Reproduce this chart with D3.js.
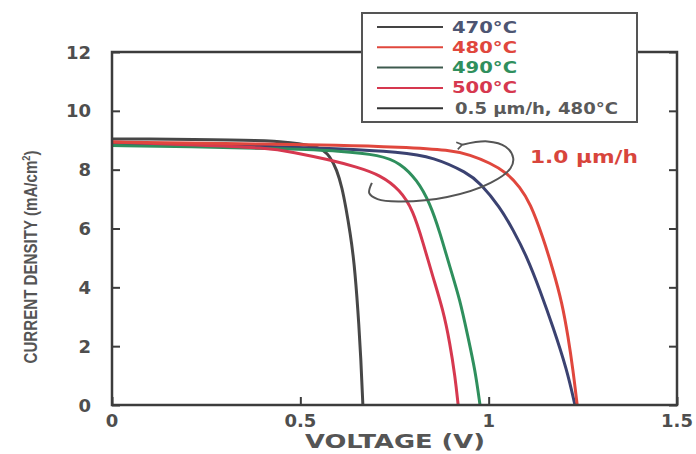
<!DOCTYPE html>
<html><head><meta charset="utf-8">
<script src="https://cdn.jsdelivr.net/npm/d3@7"></script>
<style>body{margin:0;background:#fff}svg{display:block}</style>
</head><body>
<script>
// ---- data ----
const xTicks = [0, 0.5, 1, 1.5];
const xTickLabels = ["0", "0.5", "1", "1.5"];
const yTicks = [0, 2, 4, 6, 8, 10, 12];
const yTickLabels = ["0", "2", "4", "6", "8", "10", "12"];

const seriesNames = ["470°C", "480°C", "490°C", "500°C", "0.5 µm/h, 480°C"];

const voltage470 = [0, 0.1, 0.2, 0.4, 0.472, 0.552, 0.579, 0.597, 0.611, 0.621, 0.632, 0.643, 0.653, 0.661, 0.666];
const current470 = [9.04, 9.04, 9.03, 9.0, 8.93, 8.79, 8.46, 7.99, 7.38, 6.7, 5.88, 4.86, 3.23, 1.53, 0];

const voltage480 = [0, 0.2, 0.4, 0.6, 0.765, 0.9, 0.95, 1.004, 1.049, 1.083, 1.11, 1.144, 1.171, 1.195, 1.211, 1.224, 1.235];
const current480 = [8.94, 8.91, 8.87, 8.84, 8.77, 8.67, 8.5, 8.23, 7.89, 7.41, 6.87, 5.71, 4.59, 3.47, 2.31, 1.19, 0];

const voltage490 = [0, 0.2, 0.472, 0.605, 0.712, 0.765, 0.81, 0.844, 0.871, 0.897, 0.924, 0.945, 0.964, 0.977];
const current490 = [8.82, 8.78, 8.71, 8.64, 8.5, 8.23, 7.65, 6.87, 5.85, 4.69, 3.57, 2.31, 1.19, 0];

const voltage500 = [0, 0.234, 0.41, 0.48, 0.579, 0.65, 0.712, 0.765, 0.799, 0.826, 0.852, 0.879, 0.897, 0.911, 0.919];
const current500 = [8.94, 8.84, 8.74, 8.6, 8.33, 8.09, 7.82, 7.31, 6.63, 5.51, 4.35, 3.23, 2.11, 0.95, 0];

const voltageLow = [0, 0.2, 0.4, 0.6, 0.765, 0.854, 0.944, 0.977, 1.03, 1.065, 1.102, 1.136, 1.171, 1.208, 1.229];
const currentLow = [8.9, 8.86, 8.8, 8.72, 8.6, 8.43, 7.89, 7.55, 6.73, 5.95, 5.03, 3.91, 2.65, 1.19, 0];

// curved arrow annotation (data coordinates)
const arrowV = [0.69, 0.683, 0.705, 0.76, 0.89, 1.005, 1.058, 1.065, 1.045, 0.997, 0.93];
const arrowJ = [7.55, 7.2, 7.0, 6.92, 7.07, 7.55, 8.05, 8.4, 8.78, 8.96, 8.85];
const annotationText = "1.0 µm/h";

// ---- drawing ----
const W = 696, H = 454;
const svg = d3.select("body").append("svg").attr("width", W).attr("height", H);
const x = d3.scaleLinear().domain([0, 1.5]).range([112, 677]);
const y = d3.scaleLinear().domain([0, 12]).range([405, 52]);

const axisColor = "#3c3c3c";
const textColor = "#4e4e4e";
const font = "'DejaVu Sans', 'Liberation Sans', Arial, sans-serif";

// curves
const colors = ["#474747", "#e0473d", "#2f8f5d", "#d6384f", "#3b4271"];
const series = [
  [voltage470, current470], [voltageLow, currentLow], [voltage490, current490],
  [voltage500, current500], [voltage480, current480]
];
const seriesColor = [colors[0], colors[4], colors[2], colors[3], colors[1]];
const line = d3.line().x(d => x(d[0])).y(d => y(d[1])).curve(d3.curveBasis);
series.forEach((s, i) => {
  const pts = s[0].map((v, k) => [v, s[1][k]]);
  svg.append("path").datum(pts).attr("d", line)
    .attr("fill", "none").attr("stroke", seriesColor[i]).attr("stroke-width", 3)
    .attr("stroke-linejoin", "round");
});

// axes frame
const g = svg.append("g");
g.append("g").attr("transform", `translate(0,${y(0)})`)
  .call(d3.axisBottom(x).tickValues(xTicks).tickSize(-8).tickFormat(""))
  .call(a => a.select(".domain").remove());
g.append("g").attr("transform", `translate(${x(0)},0)`)
  .call(d3.axisLeft(y).tickValues(yTicks).tickSize(-8).tickFormat(""))
  .call(a => a.select(".domain").remove());
g.append("g").attr("transform", `translate(${x(1.5)},0)`)
  .call(d3.axisRight(y).tickValues(yTicks).tickSize(-8).tickFormat(""))
  .call(a => a.select(".domain").remove());
g.selectAll(".tick line").attr("stroke", axisColor).attr("stroke-width", 2);
svg.append("rect").attr("x", x(0)).attr("y", y(12)).attr("width", x(1.5) - x(0)).attr("height", y(0) - y(12))
  .attr("fill", "none").attr("stroke", axisColor).attr("stroke-width", 2.5);

// tick labels
svg.selectAll(".xl").data(xTicks).enter().append("text")
  .attr("x", d => x(d)).attr("y", 427).attr("text-anchor", "middle")
  .attr("font-family", font).attr("font-weight", "bold").attr("font-size", 18)
  .attr("fill", textColor).text((d, i) => xTickLabels[i]);
svg.selectAll(".yl").data(yTicks).enter().append("text")
  .attr("x", 91).attr("y", d => y(d) + 6.5).attr("text-anchor", "end")
  .attr("font-family", font).attr("font-weight", "bold").attr("font-size", 18)
  .attr("fill", textColor).text((d, i) => yTickLabels[i]);

// axis titles
svg.append("text").attr("x", 395).attr("y", 448).attr("text-anchor", "middle")
  .attr("font-family", font).attr("font-weight", "bold").attr("font-size", 20)
  .attr("textLength", 180).attr("lengthAdjust", "spacingAndGlyphs")
  .attr("fill", "#555").text("VOLTAGE (V)");
const yt = svg.append("text").attr("transform", "translate(37,257) rotate(-90)")
  .attr("text-anchor", "middle").attr("font-family", "'Liberation Sans', Arial, sans-serif").attr("font-weight", "bold")
  .attr("font-size", 18).attr("fill", "#555")
  .attr("textLength", 213).attr("lengthAdjust", "spacingAndGlyphs");
yt.append("tspan").text("CURRENT DENSITY (mA/cm");
yt.append("tspan").attr("dy", -7).attr("font-size", 11).text("2");
yt.append("tspan").attr("dy", 7).text(")");

// legend
svg.append("rect").attr("x", 362).attr("y", 13).attr("width", 275).attr("height", 109)
  .attr("fill", "#fff").attr("stroke", "#555").attr("stroke-width", 2);
const legendLine = ["#444", "#e0473d", "#3e5a4e", "#d6384f", "#333"];
const legendText = ["#4d5572", "#e0473d", "#2f8f5d", "#d6384f", "#5a5a5a"];
const legendLen = [65, 65, 65, 65, 163];
seriesNames.forEach((n, i) => {
  const ly = 27 + i * 20.3;
  svg.append("line").attr("x1", 377).attr("x2", 443).attr("y1", ly).attr("y2", ly)
    .attr("stroke", legendLine[i]).attr("stroke-width", 2);
  svg.append("text").attr("x", i === 4 ? 455 : 452).attr("y", ly + 5.5)
    .attr("font-family", font).attr("font-weight", "bold").attr("font-size", 15)
    .attr("textLength", legendLen[i]).attr("lengthAdjust", "spacingAndGlyphs")
    .attr("fill", legendText[i]).text(n);
});

// curved arrow annotation
svg.append("defs").append("marker").attr("id", "ah").attr("viewBox", "0 0 10 10")
  .attr("refX", 2).attr("refY", 5).attr("markerWidth", 9).attr("markerHeight", 9)
  .attr("orient", "auto").attr("markerUnits", "userSpaceOnUse")
  .append("path").attr("d", "M8,1 L2,5 L8,9").attr("fill", "none").attr("stroke", "#555").attr("stroke-width", 1.8);
const arrowPts = arrowV.map((v, i) => [v, arrowJ[i]]);
svg.append("path").datum(arrowPts)
  .attr("d", d3.line().x(d => x(d[0])).y(d => y(d[1])).curve(d3.curveCatmullRom.alpha(0.5)))
  .attr("fill", "none").attr("stroke", "#555").attr("stroke-width", 2)
  .attr("marker-end", "url(#ah)");
svg.append("text").attr("x", 530).attr("y", 163)
  .attr("font-family", font).attr("font-weight", "bold").attr("font-size", 17)
  .attr("textLength", 108).attr("lengthAdjust", "spacingAndGlyphs")
  .attr("fill", "#d8453c").text(annotationText);
</script>
</body></html>
